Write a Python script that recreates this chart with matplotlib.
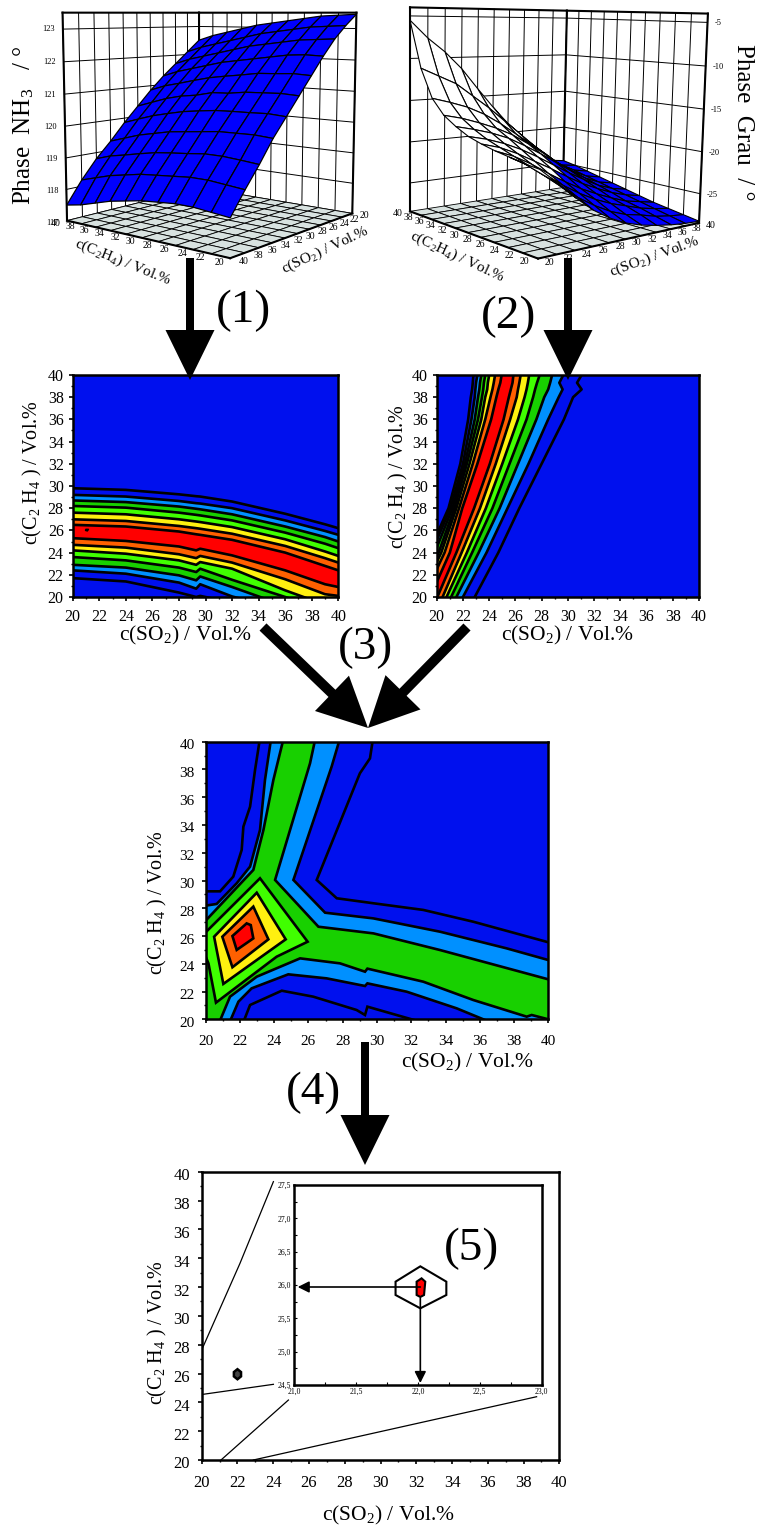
import numpy as np
import matplotlib
matplotlib.use('Agg')
import matplotlib.pyplot as plt
from matplotlib.transforms import ScaledTranslation
from mpl_toolkits.mplot3d import proj3d

plt.rcParams['font.family'] = ['Liberation Serif', 'DejaVu Serif']
plt.rcParams['mathtext.default'] = 'regular'

W, H = 757, 1526

BLUE = '#0010ee'
LBLUE = '#0090ff'
GREEN = '#18d000'
BRIGHT = '#40ff00'
YELLOW = '#fff010'
ORANGE = '#ff6000'
RED = '#ff0000'

axis_ticks = [20, 22, 24, 26, 28, 30, 32, 34, 36, 38, 40]

# 3D surface (1): rows c(SO2) 20..40, columns c(C2H4) 20..40
phase_nh3 = np.array([
    [123.45, 123.42, 123.39, 123.31, 123.23, 123.15, 123.07, 122.94, 122.81, 122.68, 122.50],
    [123.10, 123.07, 123.04, 122.96, 122.88, 122.80, 122.67, 122.54, 122.41, 122.28, 122.10],
    [122.70, 122.67, 122.64, 122.56, 122.48, 122.40, 122.27, 122.14, 122.01, 121.88, 121.70],
    [122.20, 122.22, 122.19, 122.11, 122.03, 121.95, 121.87, 121.74, 121.61, 121.48, 121.30],
    [121.65, 121.68, 121.65, 121.63, 121.55, 121.48, 121.40, 121.28, 121.15, 121.03, 120.85],
    [121.10, 121.13, 121.11, 121.09, 121.02, 121.00, 120.88, 120.81, 120.69, 120.52, 120.35],
    [120.55, 120.59, 120.57, 120.56, 120.54, 120.48, 120.41, 120.30, 120.18, 120.02, 119.85],
    [120.00, 120.04, 120.03, 120.02, 119.96, 119.90, 119.84, 119.73, 119.62, 119.46, 119.30],
    [119.35, 119.40, 119.44, 119.44, 119.38, 119.33, 119.27, 119.17, 119.06, 118.96, 118.80],
    [118.75, 118.80, 118.85, 118.85, 118.80, 118.75, 118.70, 118.60, 118.50, 118.35, 118.20],
    [118.10, 118.15, 118.20, 118.20, 118.15, 118.10, 118.00, 117.90, 117.75, 117.60, 117.50],
])
nh3_zticks = [117, 118, 119, 120, 121, 122, 123]

# 3D surface (2): rows c(C2H4) 20..40, columns c(SO2) 20..40
phase_grau = np.array([
    [-19.5, -21.2, -23.0, -24.6, -25.8, -26.7, -27.3, -27.7, -28.0, -28.2, -28.3],
    [-19.3, -20.7, -22.2, -23.7, -24.9, -25.9, -26.6, -27.0, -27.5, -27.8, -28.0],
    [-19.0, -20.1, -21.4, -22.8, -24.0, -25.0, -25.8, -26.4, -27.0, -27.4, -27.7],
    [-18.7, -19.5, -20.6, -21.9, -23.1, -24.2, -25.1, -25.9, -26.6, -27.0, -27.4],
    [-18.3, -18.9, -19.8, -20.9, -22.0, -23.2, -24.3, -25.2, -26.0, -26.6, -27.0],
    [-17.8, -18.3, -19.0, -19.9, -21.0, -22.2, -23.4, -24.5, -25.5, -26.2, -26.6],
    [-17.0, -17.5, -18.1, -18.9, -20.0, -21.2, -22.5, -23.8, -25.0, -25.8, -26.2],
    [-16.0, -16.5, -17.2, -18.0, -19.0, -20.3, -21.7, -23.2, -24.5, -25.4, -25.8],
    [-14.3, -14.9, -15.6, -16.6, -17.9, -19.4, -20.9, -22.4, -24.0, -25.0, -25.4],
    [-11.0, -12.0, -13.0, -14.6, -16.2, -18.0, -19.8, -21.6, -23.4, -24.7, -25.0],
    [-5.5, -7.6, -9.3, -11.4, -14.0, -16.5, -18.8, -20.8, -23.0, -24.4, -24.7],
])
grau_zticks = [-25, -20, -15, -10, -5]

# contour map (1): y of each contour line along map1_so2
map1_so2 = [20, 24, 28, 29.3, 29.6, 32, 36, 39, 40]
map1_lines = [
    [29.8, 29.65, 29.25, 29.08, 29.05, 28.6, 27.5, 26.55, 26.2],
    [29.2, 29.05, 28.65, 28.45, 28.42, 28.0, 26.9, 25.95, 25.6],
    [28.7, 28.55, 28.15, 27.95, 27.9, 27.45, 26.35, 25.4, 25.0],
    [28.2, 28.05, 27.6, 27.4, 27.35, 26.9, 25.8, 24.8, 24.4],
    [27.6, 27.45, 27.0, 26.8, 26.75, 26.3, 25.2, 24.1, 23.7],
    [27.0, 26.85, 26.4, 26.2, 26.15, 25.7, 24.6, 23.5, 23.1],
    [26.5, 26.35, 25.9, 25.65, 25.6, 25.15, 24.0, 22.8, 22.4],
    [25.3, 25.05, 24.55, 24.2, 24.35, 23.75, 22.4, 21.15, 20.9],
    [24.7, 24.45, 23.85, 23.5, 23.7, 23.1, 21.6, 20.25, 20.1],
    [24.2, 23.9, 23.3, 22.9, 23.15, 22.55, 20.6, 19.3, 19.0],
    [23.6, 23.3, 22.65, 22.25, 22.55, 21.55, 20.0, 18.8, 18.4],
    [22.9, 22.65, 21.95, 21.5, 21.85, 20.9, 19.2, 18.3, 17.8],
    [22.4, 22.1, 21.3, 20.75, 21.15, 20.05, 18.8, 17.8, 17.3],
    [21.7, 21.4, 20.4, 20.0, 20.1, 19.5, 18.3, 17.3, 16.8],
]
map1_bands = [BLUE, LBLUE, GREEN, BRIGHT, YELLOW, ORANGE, RED, ORANGE, YELLOW, BRIGHT, GREEN, LBLUE, BLUE]
map1_spot_x = [21.0, 21.2, 21.1, 20.95]
map1_spot_y = [26.1, 26.1, 25.95, 26.0]

# contour map (2): x of each contour line along map2_c2h4
map2_c2h4 = [20, 24, 28, 32, 36, 38, 38.7, 39.3, 40]
map2_lines = [
    [22.9, 24.7, 26.3, 28.0, 29.7, 30.4, 31.05, 30.7, 31.05],
    [22.0, 23.8, 25.4, 27.0, 28.5, 29.3, 29.6, 29.35, 29.65],
    [21.5, 23.2, 24.8, 26.2, 27.6, 28.2, 28.5, 28.65, 28.8],
    [21.1, 22.7, 24.25, 25.55, 26.85, 27.35, 27.5, 27.65, 27.85],
    [20.75, 22.3, 23.75, 25.0, 26.2, 26.7, 26.85, 26.95, 27.05],
    [20.45, 21.9, 23.3, 24.5, 25.6, 26.1, 26.2, 26.3, 26.4],
    [20.05, 21.5, 22.85, 24.05, 25.1, 25.5, 25.65, 25.78, 25.85],
    [19.5, 21.0, 21.95, 23.1, 24.15, 24.55, 24.7, 24.85, 24.95],
    [19.0, 20.6, 21.7, 22.75, 23.7, 24.1, 24.25, 24.35, 24.45],
    [18.7, 20.35, 21.5, 22.5, 23.4, 23.7, 23.85, 23.9, 24.0],
    [18.4, 20.15, 21.35, 22.3, 23.15, 23.45, 23.55, 23.6, 23.7],
    [18.0, 19.85, 21.2, 22.15, 22.9, 23.15, 23.25, 23.3, 23.4],
    [17.7, 19.6, 21.05, 22.0, 22.65, 22.9, 22.95, 23.0, 23.1],
    [17.4, 19.4, 20.9, 21.8, 22.4, 22.6, 22.7, 22.75, 22.8],
]
map2_bands = [BLUE, LBLUE, GREEN, BRIGHT, YELLOW, ORANGE, RED, ORANGE, YELLOW, BRIGHT, GREEN, LBLUE, BLUE]

# combined map (3): one outline per contour level, lowest first
map3_so2 = [
    [18, 20, 20.84, 21.61, 22.1, 22.2, 22.59, 22.88, 23.2, 29.8, 29.59, 29.0, 26.48, 27.65, 29.79, 32.7, 35.62, 40, 41, 41,
     32.3, 29.44, 29.3, 28.81, 26.28, 24.44, 22.59, 22.2, 18],
    [18, 20, 20.64, 21.81, 22.59, 23.17, 23.46, 23.85, 27.9, 27.35, 25.12, 26.97, 29.79, 33.68, 37.57, 40, 41, 41,
     36.5, 34.65, 31.73, 29.44, 29.3, 27.06, 24.82, 22.68, 21.91, 21.4, 18],
    [18, 20, 22.78, 23.37, 23.95, 24.6, 26.45, 26.09, 24.05, 26.58, 29.79, 33.68, 40, 41, 41,
     40, 39.03, 38.74, 35.62, 32.7, 29.44, 29.3, 27.84, 25.51, 22.98, 21.42, 20.8, 18],
    [18, 20, 23.17, 25.95, 24.14, 20.6, 20.16, 20, 18],
    [20.49, 22.98, 24.67, 21.03],
    [20.97, 22.78, 23.66, 21.56],
    [21.56, 22.39, 22.63, 22.78, 21.81],
]
map3_c2h4 = [
    [29.22, 29.22, 29.22, 30.28, 32.2, 33.88, 35.32, 37.96, 40.5, 40.5, 38.8, 37.72, 30.04, 28.72, 28.36, 27.88, 27.03, 25.55, 25.3, 19,
     19.9, 20.91, 20.31, 20.67, 21.63, 22.06, 21.03, 19.8, 19.8],
    [28.19, 28.19, 28.31, 29.8, 31.0, 33.64, 37.24, 40.5, 40.5, 38.2, 30.04, 27.68, 27.27, 26.31, 25.11, 24.27, 23.9, 19,
     19.85, 20.79, 21.99, 22.59, 22.4, 22.95, 23.24, 22.23, 21.27, 19.8, 19.8],
    [27.11, 27.11, 30.76, 33.64, 37.24, 40.5, 40.5, 38.44, 30.04, 26.67, 26.19, 24.99, 22.88, 22.5, 19.5,
     20, 20.31, 20.19, 21.39, 22.71, 23.65, 23.43, 24.03, 24.39, 23.07, 21.63, 19.8, 19.8],
    [26.27, 26.27, 30.16, 25.59, 24.51, 21.2, 24.03, 24.51, 24.5],
    [25.95, 29.12, 25.76, 22.55],
    [25.95, 28.12, 25.76, 23.75],
    [26.0, 26.91, 26.79, 25.83, 25.0],
]
map3_bands = [BLUE, LBLUE, GREEN, BRIGHT, YELLOW, ORANGE, RED]

# result map (4) and inset (5)
zoom_lines_so2 = [[24.01, 22.14, 20.04], [20.04, 24.01], [21.08, 24.85], [22.89, 38.73]]
zoom_lines_c2h4 = [[39.31, 33.64, 27.75], [24.55, 25.25], [20.0, 24.16], [20.0, 24.39]]
spot_so2 = [22.0, 22.2, 22.2, 22.0, 21.8, 21.8]
spot_c2h4 = [26.3, 26.1, 25.8, 25.6, 25.8, 26.1]
hex_so2 = [22.02, 22.23, 22.23, 22.02, 21.82, 21.82]
hex_c2h4 = [26.28, 26.05, 25.85, 25.65, 25.85, 26.05]
core_so2 = [22.03, 22.06, 22.05, 22.02, 21.99, 21.99]
core_c2h4 = [26.1, 26.05, 25.85, 25.82, 25.85, 26.05]
opt_so2, opt_c2h4 = 22.02, 25.97
inset_xticks = [21.0, 21.5, 22.0, 22.5, 23.0]
inset_yticks = [24.5, 25.0, 25.5, 26.0, 26.5, 27.0, 27.5]

fig = plt.figure(figsize=(W / 100, H / 100), dpi=100, facecolor='white')


def add_ax(x0, y0, x1, y1, **kw):
    return fig.add_axes([x0 / W, 1 - y1 / H, (x1 - x0) / W, (y1 - y0) / H], **kw)


def style_map(ax, size, padx, pady, shift=0):
    ax.set_xlim(20, 40)
    ax.set_ylim(20, 40)
    ax.set_xticks(axis_ticks)
    ax.set_yticks(axis_ticks)
    ax.set_xticks(range(21, 40, 2), minor=True)
    ax.set_yticks(range(21, 40, 2), minor=True)
    ax.tick_params(which='major', direction='out', length=3, width=1.2, labelsize=size)
    ax.tick_params(which='minor', direction='out', length=1.5, width=1)
    ax.tick_params(axis='x', which='major', pad=padx)
    ax.tick_params(axis='y', which='major', pad=pady)
    for s in ax.spines.values():
        s.set_linewidth(1.8)
    if shift:
        offset = ScaledTranslation(0, -shift / 100, fig.dpi_scale_trans)
        for lab in ax.get_yticklabels():
            lab.set_transform(lab.get_transform() + offset)


def box_3d(ax, ticks_z, zlim, wall_x, wall_y):
    ax.set_xlim(20, 40)
    ax.set_ylim(20, 40)
    ax.set_zlim(*zlim)
    ax.set_xticks([])
    ax.set_yticks([])
    ax.set_zticks([])
    ax.set_axis_off()
    ax.patch.set_alpha(0)
    front_x = 60 - wall_x
    front_y = 60 - wall_y
    # back walls
    for t in axis_ticks:
        ax.plot([t, t], [wall_y, wall_y], zlim, color='k', lw=0.7, zorder=1)
        ax.plot([wall_x, wall_x], [t, t], zlim, color='k', lw=0.7, zorder=1)
    for z in ticks_z:
        ax.plot([20, 40], [wall_y, wall_y], [z, z], color='k', lw=0.7, zorder=1)
        ax.plot([wall_x, wall_x], [20, 40], [z, z], color='k', lw=0.7, zorder=1)
    # floor
    fx, fy = np.meshgrid(axis_ticks, axis_ticks)
    ax.plot_surface(fx, fy, np.full(fx.shape, zlim[0]), color='#d8e2e0', edgecolor='k',
                    linewidth=0.6, shade=False, zorder=2)
    # frame
    heavy = dict(color='k', lw=1.5, zorder=3)
    for px, py in [(wall_x, wall_y), (front_x, wall_y), (wall_x, front_y)]:
        ax.plot([px, px], [py, py], zlim, **heavy)
    ax.plot([20, 40], [wall_y, wall_y], [zlim[1], zlim[1]], **heavy)
    ax.plot([wall_x, wall_x], [20, 40], [zlim[1], zlim[1]], **heavy)
    ax.plot([20, 40], [front_y, front_y], [zlim[0], zlim[0]], **heavy)
    ax.plot([front_x, front_x], [20, 40], [zlim[0], zlim[0]], **heavy)


def label_3d(ax, x, y, z, s, **kw):
    # flat text placed at the projected point
    px, py, _ = proj3d.proj_transform(x, y, z, ax.get_proj())
    ax.text2D(px, py, s, transform=ax.transData, **kw)


# panel (1) surface
S1 = 346
ax1 = fig.add_axes([(207.5 - S1 / 2) / W, 1 - (121 + S1 / 2) / H, S1 / W, S1 / H], projection='3d', computed_zorder=False)
ax1.view_init(elev=7, azim=129)
ax1.set_box_aspect((1, 1, 1))
ax1.set_proj_type('persp', focal_length=0.45)
box_3d(ax1, nh3_zticks, (117, 123.5), 40, 20)
cx, sx = np.meshgrid(axis_ticks, axis_ticks)
ax1.plot_surface(cx, sx, phase_nh3, color='#0000ff', edgecolor='k', linewidth=0.9, shade=False, zorder=4)
for t in axis_ticks:
    label_3d(ax1, t, 41.4, 117, str(t), fontsize=7, ha='center', va='center')
    label_3d(ax1, 18.6, t, 117, str(t), fontsize=7, ha='center', va='center')
for z in nh3_zticks:
    label_3d(ax1, 40, 41.0, z, str(z), fontsize=6, ha='right', va='center')

# panel (2) surface
S2 = 350
ax2 = fig.add_axes([(550 - S2 / 2) / W, 1 - (120 + S2 / 2) / H, S2 / W, S2 / H], projection='3d', computed_zorder=False)
ax2.view_init(elev=7, azim=229.5, roll=-1.2)
ax2.set_box_aspect((1, 1, 1))
ax2.set_proj_type('persp', focal_length=0.45)
box_3d(ax2, grau_zticks, (-28.5, -4), 40, 40)
sx2, cx2 = np.meshgrid(axis_ticks, axis_ticks)
cell_colors = np.empty(phase_grau.shape + (4,))
cell_colors[phase_grau < -22] = matplotlib.colors.to_rgba('#0000ff')
cell_colors[phase_grau >= -22] = matplotlib.colors.to_rgba('white')
surf2 = ax2.plot_surface(sx2, cx2, phase_grau, facecolors=cell_colors, linewidth=0.8, shade=False, zorder=4)
surf2.set_edgecolor('k')
for t in axis_ticks:
    label_3d(ax2, t, 18.6, -28.5, str(t), fontsize=7, ha='center', va='center')
    label_3d(ax2, 18.6, t, -28.5, str(t), fontsize=7, ha='center', va='center')
for z in grau_zticks:
    label_3d(ax2, 40, 19.2, z, str(z), fontsize=6, ha='left', va='center')

# panel (1) map
ax3 = add_ax(72.7, 375, 338.3, 597)
ax3.set_facecolor(BLUE)
for i, col in enumerate(map1_bands):
    ax3.fill_between(map1_so2, map1_lines[i], map1_lines[i + 1], color=col, lw=0)
for line in map1_lines:
    ax3.plot(map1_so2, line, color='k', lw=1.9)
ax3.fill(map1_spot_x, map1_spot_y, color='k')
style_map(ax3, 11.5, 5.5, 3.5)

# panel (2) map
ax4 = add_ax(436.7, 375, 699, 597)
ax4.set_facecolor(BLUE)
for i, col in enumerate(map2_bands):
    ax4.fill_betweenx(map2_c2h4, map2_lines[i], map2_lines[i + 1], color=col, lw=0)
for line in map2_lines:
    ax4.plot(line, map2_c2h4, color='k', lw=1.9)
style_map(ax4, 11.5, 5.5, 3.5)

# panel (3) combined map
ax5 = add_ax(205.7, 741.7, 548.3, 1019.3)
ax5.set_facecolor(BLUE)
for xs, ys, col in zip(map3_so2, map3_c2h4, map3_bands):
    ax5.fill(xs, ys, facecolor=col, edgecolor='k', lw=1.9)
style_map(ax5, 11, 8, 5, shift=2.5)

# panel (4) result
ax6 = add_ax(201.7, 1171.7, 559.3, 1460)
for xs, ys in zip(zoom_lines_so2, zoom_lines_c2h4):
    ax6.plot(xs, ys, color='k', lw=0.9)
ax6.fill(spot_so2, spot_c2h4, facecolor='#444444', edgecolor='k', lw=1.8)
style_map(ax6, 12, 8, 5.5, shift=2.5)

ins = add_ax(294, 1185, 541.7, 1385)
ins.set_xlim(21, 23)
ins.set_ylim(24.5, 27.5)
ins.fill(hex_so2, hex_c2h4, facecolor='white', edgecolor='k', lw=1.5)
ins.fill(core_so2, core_c2h4, facecolor=RED, edgecolor='k', lw=1.5)
ins.annotate('', xy=(21.03, opt_c2h4), xytext=(opt_so2, opt_c2h4),
             arrowprops=dict(arrowstyle='-|>', color='k', lw=1.2, mutation_scale=17, shrinkA=0, shrinkB=0))
ins.annotate('', xy=(opt_so2, 24.53), xytext=(opt_so2, 25.8),
             arrowprops=dict(arrowstyle='-|>', color='k', lw=1.2, mutation_scale=17, shrinkA=0, shrinkB=0))
ins.set_xticks(inset_xticks)
ins.set_yticks(inset_yticks)
ins.set_xticklabels([f'{t:.1f}'.replace('.', ',') for t in inset_xticks])
ins.set_yticklabels([f'{t:.1f}'.replace('.', ',') for t in inset_yticks])
ins.set_xticks(np.arange(21.25, 23, 0.5), minor=True)
ins.set_yticks(np.arange(24.75, 27.5, 0.5), minor=True)
ins.tick_params(which='both', direction='in', length=2, width=0.8, labelsize=5.5, pad=2)
for s in ins.spines.values():
    s.set_linewidth(1.8)

# overlay for arrows and free text, in picture pixels
ov = fig.add_axes([0, 0, 1, 1], zorder=20)
ov.set_xlim(0, W)
ov.set_ylim(H, 0)
ov.set_xticks([])
ov.set_yticks([])
ov.axis('off')
ov.patch.set_alpha(0)


def block_arrow(x0, y0, x1, y1, width=8):
    ov.arrow(x0, y0, x1 - x0, y1 - y0, width=width, head_width=49, head_length=50,
             length_includes_head=True, fc='k', ec='k', lw=0)


block_arrow(190, 258, 190, 380)
block_arrow(568, 258, 568, 380)
block_arrow(263, 627, 368, 728, 10)
block_arrow(467, 627, 368, 728, 10)
block_arrow(365, 1042, 365, 1165)

for label, x, y in [('(1)', 244, 311), ('(2)', 509, 317), ('(3)', 365, 648), ('(4)', 314, 1093), ('(5)', 471, 1249)]:
    ov.text(x, y, label, fontsize=34, ha='center', va='center')

so2_label = 'c(SO$_2$) / Vol.%'
c2h4_label = 'c(C$_2$ H$_4$ ) / Vol.%'
for x, y in [(186, 635), (568, 635), (468, 1062), (389, 1515)]:
    ov.text(x, y, so2_label, fontsize=15.5, ha='center', va='center')
for x, y in [(32, 473), (398, 477), (157, 903), (157, 1333)]:
    ov.text(x, y, c2h4_label, fontsize=14.5, ha='center', va='center', rotation=90)

ov.text(123, 262, 'c(C$_2$H$_4$) / Vol.%', fontsize=11, ha='center', va='center', rotation=-22)
ov.text(325, 250, 'c(SO$_2$) / Vol.%', fontsize=11, ha='center', va='center', rotation=25)
ov.text(457, 257, 'c(C$_2$H$_4$) / Vol.%', fontsize=11, ha='center', va='center', rotation=-25)
ov.text(655, 257, 'c(SO$_2$) / Vol.%', fontsize=11, ha='center', va='center', rotation=20)
ov.text(24, 125, 'Phase  NH$_3$   / °', fontsize=18, ha='center', va='center', rotation=90)
ov.text(743, 122, 'Phase  Grau  / °', fontsize=18, ha='center', va='center', rotation=270)

fig.savefig('out.png', dpi=100)
